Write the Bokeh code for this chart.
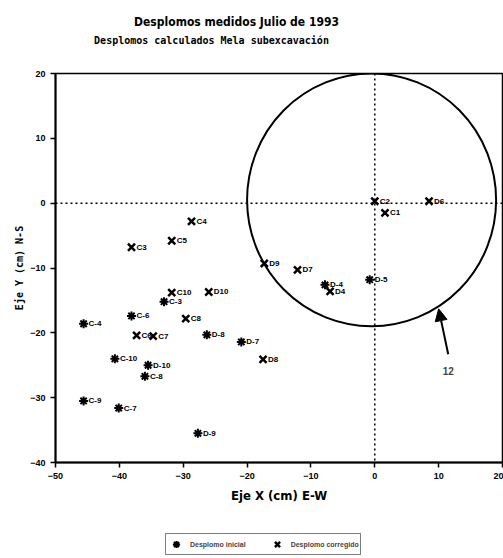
from bokeh.plotting import figure
from bokeh.layouts import column
from bokeh.models import (Span, Arrow, NormalHead, Label, Legend, LegendItem,
                          ColumnDataSource, LabelSet, Range1d, FixedTicker)
from bokeh.core.properties import value
from bokeh.embed import file_html
from bokeh.resources import INLINE

# ---- data ----
ini_names = ["C-4", "C-6", "C-3", "D-8", "C-10", "D-10", "C-8", "C-9", "C-7",
             "D-9", "D-7", "D-5", "D-4"]
ini_x = [-45.6, -38.1, -33.0, -26.3, -40.7, -35.5, -36.0, -45.6, -40.1,
         -27.7, -20.9, -0.8, -7.8]
ini_y = [-18.6, -17.4, -15.2, -20.3, -24.0, -25.0, -26.7, -30.5, -31.6,
         -35.5, -21.4, -11.8, -12.6]

cor_names = ["C3", "C5", "C4", "C10", "C8", "C6", "C7", "D10", "D9", "D7",
             "D4", "D8", "C2", "C1", "D6"]
cor_x = [-38.1, -31.8, -28.7, -31.8, -29.6, -37.3, -34.7, -26.0, -17.3, -12.1,
         -7.0, -17.5, 0.0, 1.6, 8.5]
cor_y = [-6.8, -5.8, -2.8, -13.8, -17.8, -20.4, -20.5, -13.7, -9.3, -10.3,
         -13.6, -24.1, 0.3, -1.5, 0.3]

circle_center = (-0.5, 0.5)
circle_radius = 19.5
arrow_from = (11.5, -23.3)
arrow_to = (10.0, -16.3)
arrow_text = "12"

x_ticks = [-50, -40, -30, -20, -10, 0, 10, 20]
y_ticks = [-40, -30, -20, -10, 0, 10, 20]

title1 = "Desplomos medidos Julio de 1993"
title2 = "Desplomos calculados Mela subexcavación"
xlabel = "Eje X (cm) E-W"
ylabel = "Eje Y (cm) N-S"
leg_ini = "Desplomo inicial"
leg_cor = "Desplomo corregido"

SANS = "Liberation Sans"
COND = "DejaVu Sans Condensed"
MONO = "DejaVu Sans Mono"
W = 503
FL, FR = 55, 502   # page x of the plot frame (the column aligns all frames)


def blank(fig):
    fig.xgrid.visible = False
    fig.ygrid.visible = False
    fig.outline_line_color = None
    fig.background_fill_color = "white"
    fig.border_fill_color = "white"


# ---- title strip (page pixel coordinates, y downward) ----
top = figure(width=W, height=65, x_range=Range1d(FL, FR), y_range=Range1d(65, 0),
             x_axis_type=None, y_axis_type=None,
             output_backend="svg", toolbar_location=None, title=None,
             min_border_left=FL, min_border_right=W - FR, min_border_top=0, min_border_bottom=0)
blank(top)
top.add_layout(Label(x=236, y=21, text=title1, text_align="center", text_baseline="middle",
                     text_font=COND, text_font_size="12px", text_font_style="bold",
                     text_color="black"))
top.add_layout(Label(x=211, y=40, text=title2, text_align="center", text_baseline="middle",
                     text_font=MONO, text_font_size="10px", text_font_style="bold",
                     text_color="black"))

# ---- main chart ----
p = figure(width=W, height=453, x_range=Range1d(-50, 20), y_range=Range1d(-40, 20),
           output_backend="svg", toolbar_location=None, title=None,
           min_border_left=FL, min_border_right=W - FR, min_border_top=8, min_border_bottom=56)

p.xgrid.visible = False
p.ygrid.visible = False
p.outline_line_color = "black"
p.outline_line_width = 1.5
p.background_fill_color = "white"
p.border_fill_color = "white"

for ax in (p.xaxis[0], p.yaxis[0]):
    ax.axis_line_width = 2
    ax.axis_line_color = "black"
    ax.major_tick_line_width = 1.5
    ax.major_tick_out = 5
    ax.major_tick_in = 0
    ax.minor_tick_line_color = None
    ax.major_label_text_font = SANS
    ax.major_label_text_font_style = "bold"
    ax.major_label_text_font_size = "9px"
    ax.major_label_text_color = "black"
    ax.axis_label_text_font_style = "bold"
    ax.axis_label_text_color = "black"

p.xaxis.ticker = FixedTicker(ticks=x_ticks)
p.yaxis.ticker = FixedTicker(ticks=y_ticks)
p.xaxis.axis_label = xlabel
p.xaxis.axis_label_text_font = COND
p.xaxis.axis_label_text_font_size = "13px"
p.xaxis.axis_label_standoff = 6
p.yaxis.axis_label = ylabel
p.yaxis.axis_label_text_font = MONO
p.yaxis.axis_label_text_font_size = "10px"
p.yaxis.axis_label_standoff = 2

# dotted cross through origin
p.add_layout(Span(location=0, dimension="width", line_color="black",
                  line_dash="2 3", line_width=1.5))
p.add_layout(Span(location=0, dimension="height", line_color="black",
                  line_dash="2 3", line_width=1.5))

# tolerance circle
p.ellipse(x=[circle_center[0]], y=[circle_center[1]], width=[2 * circle_radius],
          height=[2 * circle_radius], fill_color=None, line_color="black", line_width=2)

p.add_layout(Arrow(end=NormalHead(size=12, fill_color="black", line_color="black"),
                   x_start=arrow_from[0], y_start=arrow_from[1],
                   x_end=arrow_to[0], y_end=arrow_to[1], line_width=2, line_color="black"))
p.add_layout(Label(x=arrow_from[0], y=arrow_from[1] - 2.0, text=arrow_text,
                   text_align="center", text_baseline="top", text_font=SANS,
                   text_font_size="10px", text_font_style="bold"))

src_i = ColumnDataSource(dict(x=ini_x, y=ini_y, name=ini_names))
src_c = ColumnDataSource(dict(x=cor_x, y=cor_y, name=cor_names))

MK_I = dict(marker="asterisk", size=9, line_color="black", line_width=2)
MK_C = dict(marker="x", size=10, line_color="black", line_width=2.5)

p.scatter("x", "y", source=src_i, **MK_I)
p.scatter("x", "y", source=src_c, **MK_C)

for src in (src_i, src_c):
    p.add_layout(LabelSet(x="x", y="y", text="name", source=src, x_offset=5, y_offset=0,
                          text_baseline="middle", text_font=value(SANS),
                          text_font_size="8px", text_font_style="bold", text_color="black"))

# ---- legend strip ----
bot = figure(width=W, height=40, x_range=Range1d(FL, FR), y_range=Range1d(0, 40),
             x_axis_type=None, y_axis_type=None,
             output_backend="svg", toolbar_location=None, title=None,
             min_border_left=FL, min_border_right=W - FR, min_border_top=0, min_border_bottom=0)
blank(bot)
# same series as the chart; they fall outside this strip's ranges and only feed the legend
g_i = bot.scatter("x", "y", source=src_i, **MK_I)
g_c = bot.scatter("x", "y", source=src_c, **MK_C)
legend = Legend(items=[LegendItem(label=leg_ini, renderers=[g_i]),
                       LegendItem(label=leg_cor, renderers=[g_c])],
                orientation="horizontal", location=(165 - FL, 3), margin=0,
                label_text_font=SANS, label_text_font_size="7px",
                label_text_font_style="bold", glyph_width=18, glyph_height=18,
                padding=1, spacing=22, label_standoff=5,
                border_line_color="black", border_line_width=1.5,
                label_height=10, background_fill_alpha=1.0)
bot.add_layout(legend, "center")

layout = column(top, p, bot, spacing=0)
open("out.html", "w").write(file_html(layout, INLINE))
